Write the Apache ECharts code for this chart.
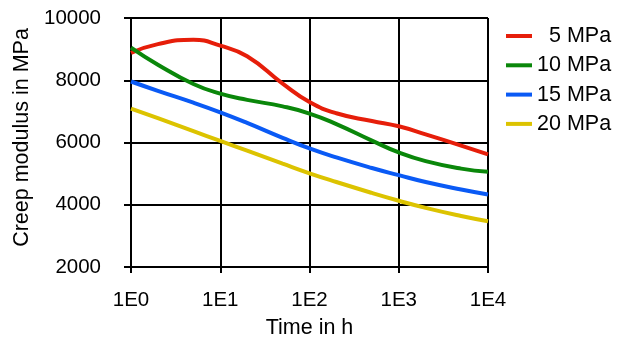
<!DOCTYPE html>
<html>
<head>
<meta charset="utf-8">
<script src="https://cdn.jsdelivr.net/npm/echarts@6/dist/echarts.min.js"></script>
<style>
  html, body { margin: 0; padding: 0; background: #fff; }
  #chart { width: 623px; height: 344px; }
</style>
</head>
<body>
<div id="chart"></div>
<script>
// Creep modulus over time (log scale) at four stress levels, sampled at 1-2-5 steps
const hours = [1, 2, 5, 10, 20, 50, 100, 200, 500, 1000, 2000, 5000, 10000];
const stress5 = [8880, 9160, 9300, 9110, 8770, 7890, 7300, 6940, 6690, 6520, 6260, 5900, 5620];
const stress10 = [9050, 8500, 7880, 7570, 7370, 7160, 6930, 6590, 6060, 5680, 5400, 5160, 5060];
const stress15 = [7960, 7660, 7280, 6970, 6630, 6150, 5810, 5520, 5180, 4950, 4730, 4490, 4330];
const stress20 = [7090, 6780, 6365, 6050, 5740, 5320, 5010, 4730, 4380, 4130, 3900, 3640, 3470];
const seriesNames = ['5 MPa', '10 MPa', '15 MPa', '20 MPa'];
const seriesColors = ['#e61e0a', '#0a870a', '#0a5af5', '#dcc300'];

const FONT = 'Liberation Sans, Arial, Helvetica, sans-serif';
const values = [stress5, stress10, stress15, stress20];

const chart = echarts.init(document.getElementById('chart'), null, { renderer: 'canvas' });

chart.setOption({
  animation: false,
  backgroundColor: '#ffffff',
  textStyle: { fontFamily: FONT, color: '#000' },
  grid: { left: 131, right: 135, top: 18, bottom: 72, containLabel: false },
  legend: {
    orient: 'vertical',
    left: 501,
    top: 20,
    itemWidth: 26,
    itemHeight: 4,
    itemGap: 7.3,
    icon: 'rect',
    data: seriesNames,
    formatter: n => (n === '5 MPa' ? '\u2007' + n : n),
    textStyle: { fontFamily: FONT, fontSize: 21.5, color: '#000' }
  },
  xAxis: {
    type: 'log',
    logBase: 10,
    min: 1,
    max: 10000,
    name: 'Time in h',
    nameLocation: 'middle',
    nameGap: 50,
    nameTextStyle: { fontFamily: FONT, fontSize: 21.5, color: '#000' },
    axisLine: { show: true, lineStyle: { color: '#000', width: 2 } },
    axisTick: { show: true, length: 6, lineStyle: { color: '#000', width: 2 } },
    minorTick: { show: false },
    splitLine: { show: true, lineStyle: { color: '#000', width: 2 } },
    axisLabel: {
      margin: 23,
      fontFamily: FONT, fontSize: 20.5, color: '#000',
      formatter: v => '1E' + Math.round(Math.log10(v))
    }
  },
  yAxis: {
    type: 'value',
    min: 2000,
    max: 10000,
    interval: 2000,
    name: 'Creep modulus in MPa',
    nameLocation: 'middle',
    nameGap: 96,
    nameTextStyle: { fontFamily: FONT, fontSize: 21.5, color: '#000', padding: [0, 0, 0, 10] },
    axisLine: { show: true, lineStyle: { color: '#000', width: 2 } },
    axisTick: { show: true, length: 7, lineStyle: { color: '#000', width: 2 } },
    splitLine: { show: true, lineStyle: { color: '#000', width: 2 } },
    axisLabel: { margin: 30, fontFamily: FONT, fontSize: 20.5, color: '#000', formatter: v => String(v) }
  },
  series: seriesNames.map((name, i) => ({
    name,
    type: 'line',
    smooth: 0.5,
    symbol: 'none',
    color: seriesColors[i],
    lineStyle: { width: 4, color: seriesColors[i] },
    data: hours.map((h, j) => [h, values[i][j]])
  }))
});
</script>
</body>
</html>
